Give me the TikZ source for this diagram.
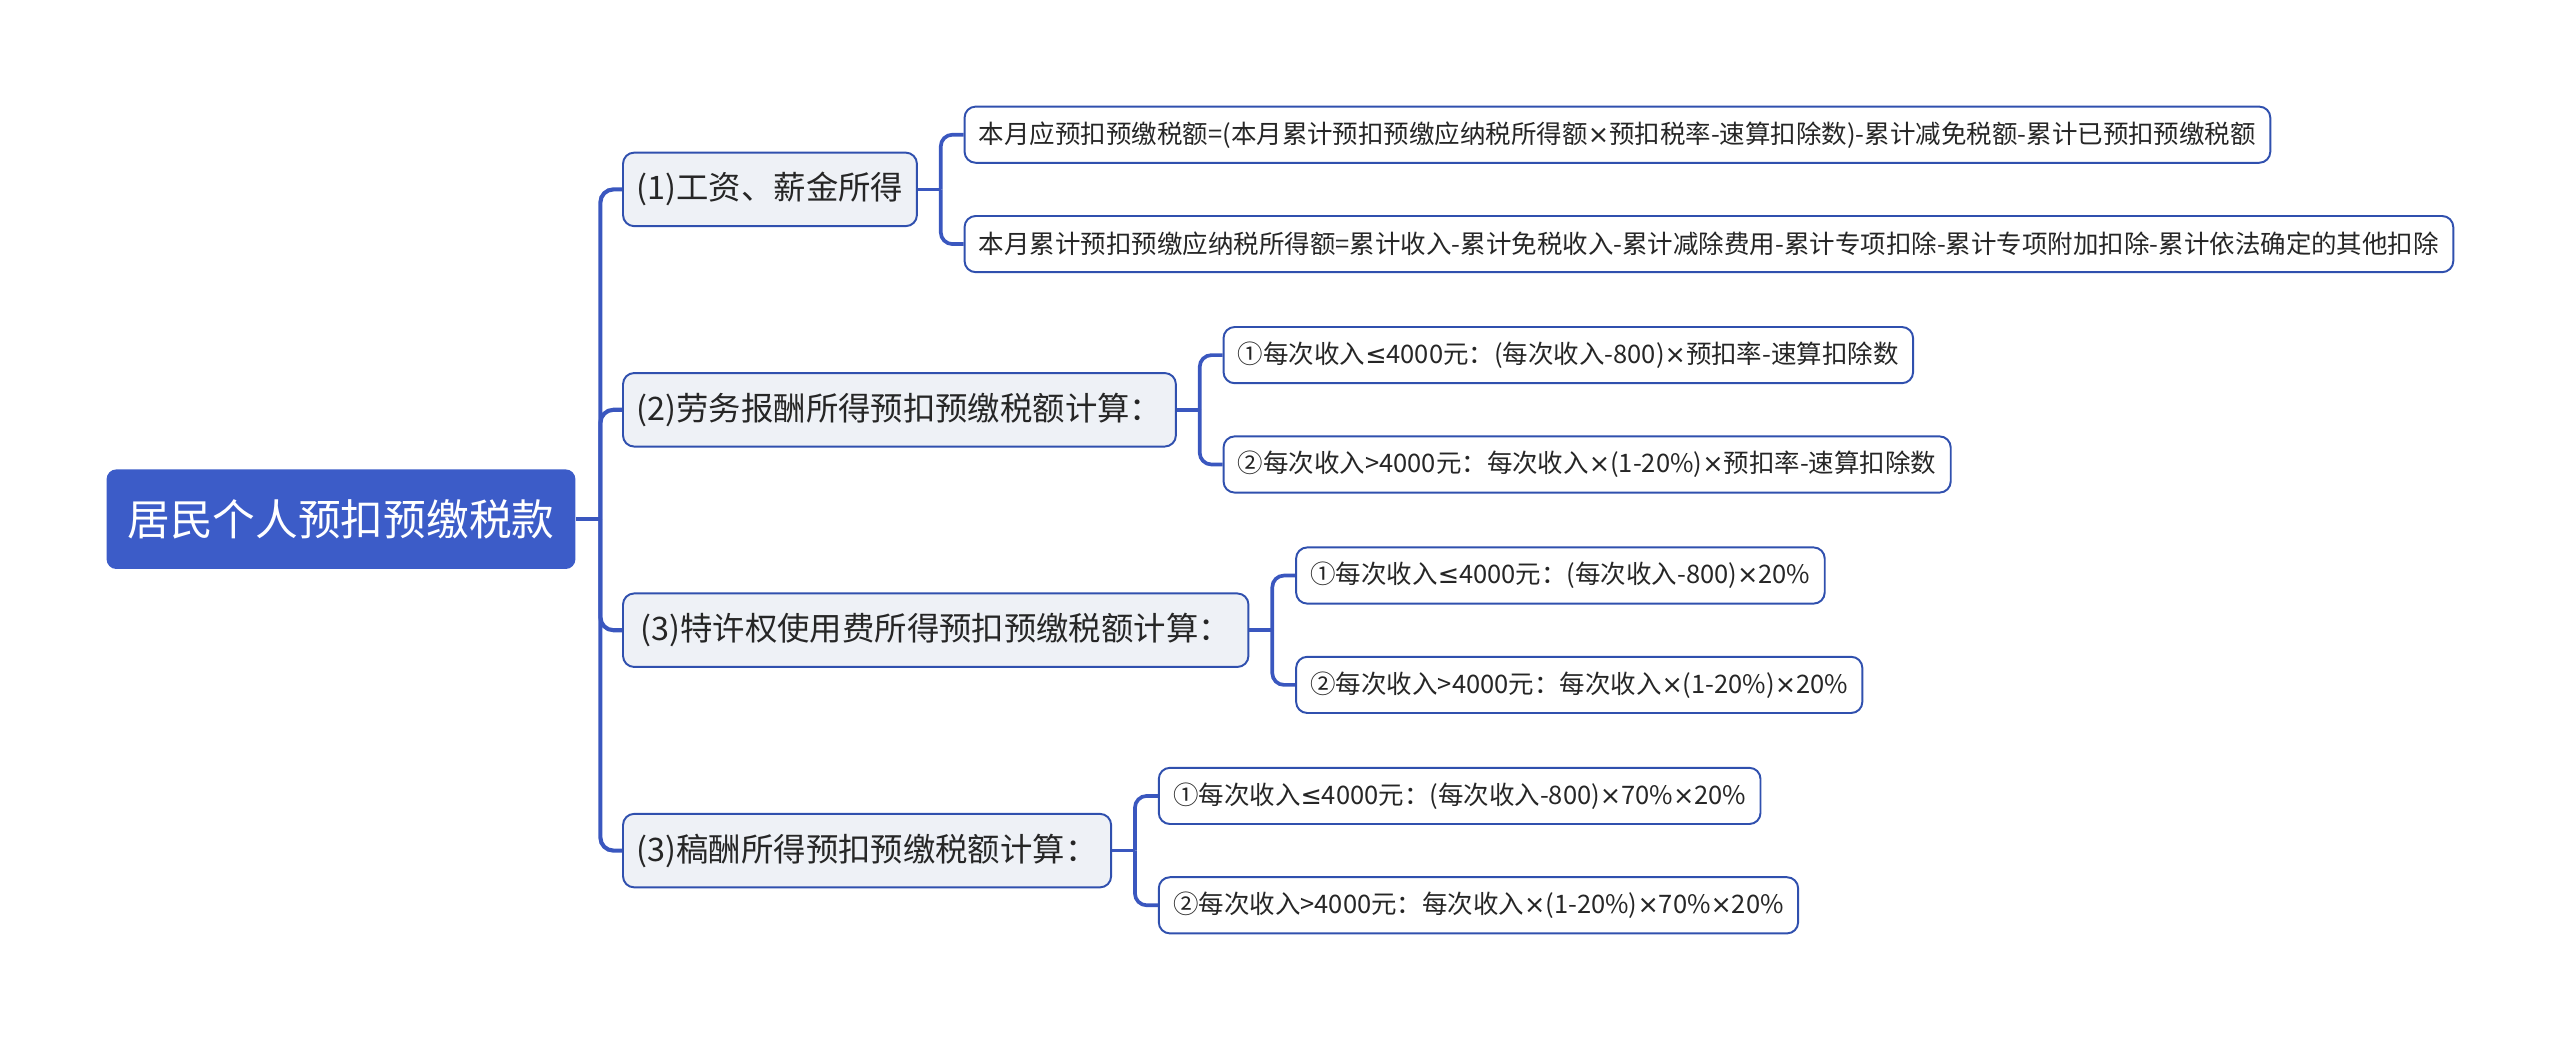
\documentclass[tikz,border=0pt]{standalone}
\usepackage{fontspec}
\setmainfont{Noto Sans CJK SC}
\newfontfamily\symfont{DejaVu Sans}
\newcommand\tms{{\symfont ×}}
\newcommand\leqs{{\symfont ≤}}
\usepackage{tikz}
\usetikzlibrary{positioning,calc}
\definecolor{rootblue}{HTML}{3C5CC8}
\definecolor{linkblue}{HTML}{3A57BF}
\definecolor{edgeblue}{HTML}{3050AE}
\definecolor{paleblue}{HTML}{EEF1F6}
\definecolor{inkgray}{HTML}{262626}
\tikzset{
  rootbox/.style={fill=rootblue,text=white,rounded corners=0.15cm,minimum height=1.525cm,inner xsep=0.32cm,font=\fontsize{18.6}{22}\selectfont},
  topicbox/.style={draw=edgeblue,fill=paleblue,line width=0.85pt,text=inkgray,rounded corners=0.17cm,minimum height=1.125cm,inner xsep=0.21cm,font=\fontsize{14.1}{17}\selectfont},
  leafbox/.style={draw=edgeblue,fill=white,line width=0.85pt,text=inkgray,rounded corners=0.17cm,minimum height=0.86cm,inner xsep=0.22cm,font=\fontsize{11.1}{13}\selectfont},
  trunk/.style={draw=linkblue,line width=1.8pt,rounded corners=0.2cm},
  twig/.style={draw=linkblue,line width=1.6pt,rounded corners=0.18cm}
}

\begin{document}
\begin{tikzpicture}[x=0.025cm,y=-0.025cm]
  \useasboundingbox (0,0) rectangle (1568,638);
  \node[rootbox,anchor=west] (root) at (65,318) {居民个人预扣预缴税款};
  \node[topicbox,anchor=west] (wage) at (381,116) {(1)工资、薪金所得};
  \node[topicbox,anchor=west] (labor) at (381,251) {(2)劳务报酬所得预扣预缴税额计算：};
  \node[topicbox,anchor=west,inner xsep=0.27cm] (royalty) at (381,386) {(3)特许权使用费所得预扣预缴税额计算：};
  \node[topicbox,anchor=west] (author) at (381,521) {(3)稿酬所得预扣预缴税额计算：};

  \node[leafbox,anchor=west] (wage-a) at ([shift={(28,-33.5)}]wage.east) {本月应预扣预缴税额=(本月累计预扣预缴应纳税所得额\tms 预扣税率-速算扣除数)-累计减免税额-累计已预扣预缴税额};
  \node[leafbox,anchor=west] (wage-b) at ([shift={(28,33.5)}]wage.east) {本月累计预扣预缴应纳税所得额=累计收入-累计免税收入-累计减除费用-累计专项扣除-累计专项附加扣除-累计依法确定的其他扣除};
  \node[leafbox,anchor=west] (labor-a) at ([shift={(28,-33.5)}]labor.east) {①每次收入\leqs 4000元：(每次收入-800)\tms 预扣率-速算扣除数};
  \node[leafbox,anchor=west] (labor-b) at ([shift={(28,33.5)}]labor.east) {②每次收入>4000元：每次收入\tms(1-20\%)\tms 预扣率-速算扣除数};
  \node[leafbox,anchor=west] (royalty-a) at ([shift={(28,-33.5)}]royalty.east) {①每次收入\leqs 4000元：(每次收入-800)\tms 20\%};
  \node[leafbox,anchor=west] (royalty-b) at ([shift={(28,33.5)}]royalty.east) {②每次收入>4000元：每次收入\tms(1-20\%)\tms 20\%};
  \node[leafbox,anchor=west] (author-a) at ([shift={(28,-33.5)}]author.east) {①每次收入\leqs 4000元：(每次收入-800)\tms 70\%\tms 20\%};
  \node[leafbox,anchor=west] (author-b) at ([shift={(28,33.5)}]author.east) {②每次收入>4000元：每次收入\tms(1-20\%)\tms 70\%\tms 20\%};

  \coordinate (hub) at ([shift={(15,0)}]root.east);
  \draw[trunk] (root.east) -- (hub);
  \foreach \p in {wage,labor,royalty,author}{\draw[trunk] (hub) |- (\p.west);}
  \foreach \p in {wage,labor,royalty,author}{
    \coordinate (\p-hub) at ([shift={(14,0)}]\p.east);
    \draw[twig] (\p.east) -- (\p-hub);
    \draw[twig] (\p-hub) |- (\p-a.west);
    \draw[twig] (\p-hub) |- (\p-b.west);
  }
\end{tikzpicture}
\end{document}
